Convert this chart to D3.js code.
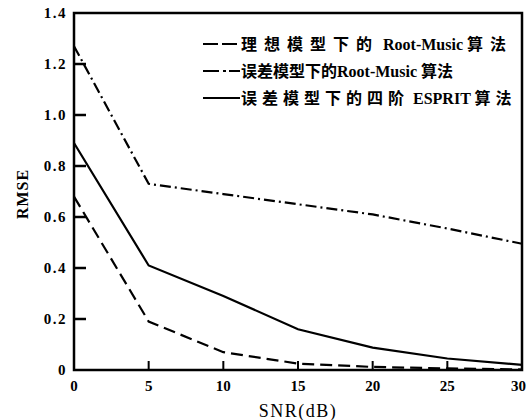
<!DOCTYPE html>
<html>
<head>
<meta charset="utf-8">
<script src="https://cdn.jsdelivr.net/npm/d3@7"></script>
<style>
  body { margin: 0; background: #fff; }
  svg text { font-family: "Liberation Serif", "Noto Sans CJK SC", serif; fill: #000; white-space: pre; }
</style>
</head>
<body>
<div id="chart"></div>
<script>
// data
const snr = [0, 5, 10, 15, 20, 25, 30];
const idealMusic = [0.68, 0.19, 0.07, 0.025, 0.012, 0.006, 0.002];
const errMusic = [1.27, 0.73, 0.69, 0.65, 0.61, 0.555, 0.495];
const errEsprit = [0.89, 0.41, 0.29, 0.16, 0.088, 0.045, 0.02];
const yTicks = [0, 0.2, 0.4, 0.6, 0.8, 1.0, 1.2, 1.4];
const xTicks = [0, 5, 10, 15, 20, 25, 30];
const legendLabels = ["理想模型下的 Root-Music 算法", "误差模型下的Root-Music 算法", "误差模型下的四阶 ESPRIT 算法"];

const width = 527, height = 420;
const margin = {top: 13, left: 74, right: 5, bottom: 50};
const plotWidth = width - margin.left - margin.right;
const plotHeight = height - margin.top - margin.bottom;

const svg = d3.select("#chart").append("svg")
    .attr("width", width)
    .attr("height", height);

const xScale = d3.scaleLinear().domain([0, 30]).range([0, plotWidth]);
const yScale = d3.scaleLinear().domain([0, 1.4]).range([plotHeight, 0]);

const plot = svg.append("g")
    .attr("transform", `translate(${margin.left}, ${margin.top})`);

// frame
plot.append("rect")
    .attr("x", 0).attr("y", 0)
    .attr("width", plotWidth).attr("height", plotHeight)
    .attr("fill", "none")
    .attr("stroke", "#000")
    .attr("stroke-width", 2.5);

// y ticks point inward
plot.selectAll(".yTick")
    .data(yTicks.filter(d => d > 0 && d < 1.4))
    .enter().append("line")
    .attr("class", "yTick")
    .attr("x1", 0).attr("x2", 12)
    .attr("y1", d => yScale(d)).attr("y2", d => yScale(d))
    .attr("stroke", "#000").attr("stroke-width", 2.5);

plot.selectAll(".yLabel")
    .data(yTicks)
    .enter().append("text")
    .attr("class", "yLabel")
    .attr("x", -7)
    .attr("y", d => yScale(d) + 5)
    .attr("text-anchor", "end")
    .style("font-size", "15px")
    .style("font-weight", "bold")
    .style("letter-spacing", "1.5px")
    .text(d => d === 0 ? "0" : d.toFixed(1));

// x ticks point upward
plot.selectAll(".xTick")
    .data(xTicks.filter(d => d > 0 && d < 30))
    .enter().append("line")
    .attr("class", "xTick")
    .attr("x1", d => xScale(d)).attr("x2", d => xScale(d))
    .attr("y1", plotHeight).attr("y2", plotHeight - 9)
    .attr("stroke", "#000").attr("stroke-width", 2);

// last label is pushed against the right edge, as in the scan
plot.selectAll(".xLabel")
    .data(xTicks)
    .enter().append("text")
    .attr("class", "xLabel")
    .attr("x", d => d === 30 ? xScale(d) + 4 : xScale(d))
    .attr("y", plotHeight + 21)
    .attr("text-anchor", d => d === 30 ? "end" : "middle")
    .style("font-size", "15px")
    .style("font-weight", "bold")
    .text(d => d);

svg.append("text")
    .attr("x", margin.left + plotWidth / 2)
    .attr("y", height - 3)
    .attr("text-anchor", "middle")
    .style("font-size", "18px")
    .style("letter-spacing", "1.5px")
    .text("SNR(dB)");

svg.append("text")
    .attr("transform", `translate(28, 194) rotate(-90)`)
    .attr("text-anchor", "middle")
    .style("font-size", "16px")
    .style("font-weight", "bold")
    .style("letter-spacing", "1px")
    .text("RMSE");

// lines
const series = [
    {values: idealMusic, dash: "12,6", legendDash: "15,4"},
    {values: errMusic, dash: "11,4,2,4", legendDash: "16,4,3,3"},
    {values: errEsprit, dash: null, legendDash: null}
];

const line = d3.line()
    .x((d, i) => xScale(snr[i]))
    .y(d => yScale(d));

plot.selectAll(".series")
    .data(series)
    .enter().append("path")
    .attr("class", "series")
    .attr("d", d => line(d.values))
    .attr("fill", "none")
    .attr("stroke", "#000")
    .attr("stroke-width", 2.2)
    .attr("stroke-dasharray", d => d.dash);

// legend: the scan spaces the Chinese characters unevenly from row to row
const cjkSpacing = [7, 0, 5];
const legend = svg.append("g")
    .attr("transform", "translate(203, 44)");

const legendRows = legend.selectAll(".legendRow")
    .data(series)
    .enter().append("g")
    .attr("class", "legendRow")
    .attr("transform", (d, i) => `translate(0, ${i * 27})`);

legendRows.append("line")
    .attr("x1", 0).attr("x2", 37)
    .attr("y1", 0).attr("y2", 0)
    .attr("stroke", "#000")
    .attr("stroke-width", 2.2)
    .attr("stroke-dasharray", d => d.legendDash);

legendRows.each(function(d, i) {
    const t = d3.select(this).append("text")
        .attr("x", 38)
        .attr("y", 6)
        .style("font-size", "16px")
        .style("font-weight", "bold");
    const parts = legendLabels[i].match(/[\u4e00-\u9fff]+|[^\u4e00-\u9fff]+/g);
    parts.forEach(p => {
        const cjk = /[\u4e00-\u9fff]/.test(p);
        t.append("tspan")
            .style("letter-spacing", cjk ? cjkSpacing[i] + "px" : "0px")
            .text(p);
    });
});
</script>
</body>
</html>
